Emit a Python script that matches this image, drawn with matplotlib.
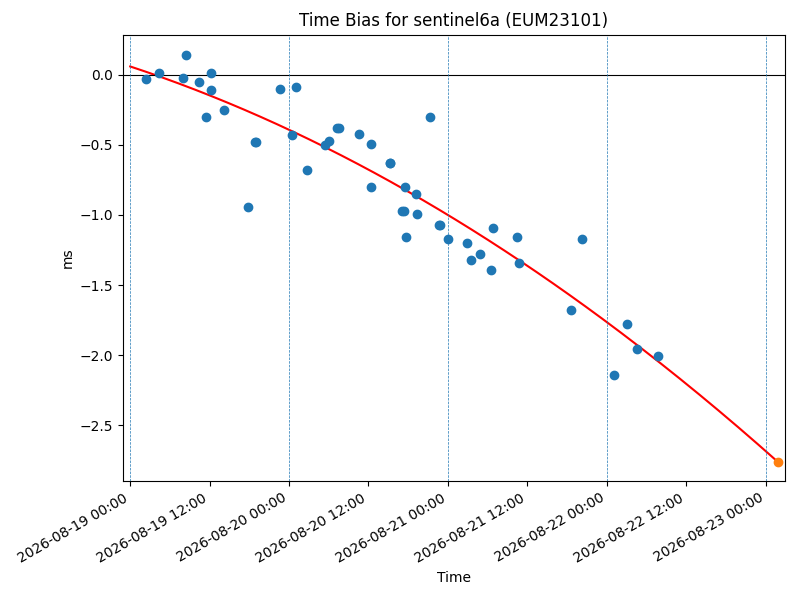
import numpy as np
import pandas as pd
import matplotlib
matplotlib.use("Agg")
import matplotlib.pyplot as plt
import matplotlib.dates as mdates

base = pd.Timestamp("2026-08-19 00:00")
hours = [2.4, 4.4, 8.0, 8.45, 10.4, 11.5, 12.2, 12.2, 14.2, 17.8, 18.9, 19.0, 22.6, 24.5, 25.1,
         26.7, 29.4, 30.0, 31.2, 31.5, 34.6, 36.4, 36.4, 39.2, 39.3, 41.1, 41.3, 41.5, 41.7,
         43.2, 43.3, 45.3, 46.6, 46.8, 48.0, 50.9, 51.5, 52.8, 54.5, 54.8, 58.4, 58.7, 66.6,
         68.2, 73.1, 75.0, 76.5, 79.7]
bias = [-0.03, 0.01, -0.02, 0.14, -0.05, -0.30, 0.01, -0.11, -0.25, -0.94, -0.48, -0.48, -0.10,
        -0.43, -0.09, -0.68, -0.50, -0.47, -0.38, -0.38, -0.42, -0.49, -0.80, -0.63, -0.63,
        -0.97, -0.97, -0.80, -1.16, -0.85, -0.99, -0.30, -1.07, -1.07, -1.17, -1.20, -1.32,
        -1.28, -1.39, -1.09, -1.16, -1.34, -1.68, -1.17, -2.14, -1.78, -1.96, -2.01]
fit_hours = [0.0, 48.0, 97.8]
fit_vals = [0.06, -1.0, -2.76]
pred_hour = 97.8

h = np.array(hours)
coef = np.polyfit(fit_hours, fit_vals, 2)
tt = np.linspace(0, pred_hour, 200)
ff = np.polyval(coef, tt)

to_t = lambda x: base + pd.to_timedelta(np.asarray(x), unit="h")

fig, ax = plt.subplots(figsize=(8, 6), dpi=100)
ax.scatter(to_t(h), bias, color="C0", zorder=3)
ax.plot(to_t(tt), ff, color="red")
ax.scatter([to_t([pred_hour])[0]], [np.polyval(coef, pred_hour)], color="C1", zorder=4)
ax.axhline(0, color="black", lw=0.8)
for d in range(5):
    ax.axvline(base + pd.Timedelta(days=d), color="C0", ls="--", lw=0.5)
ax.set_xlim(to_t([-1.06])[0], to_t([98.9])[0])
ax.set_ylim(-2.9, 0.286)
ax.xaxis.set_major_locator(mdates.HourLocator(byhour=[0, 12]))
ax.xaxis.set_major_formatter(mdates.DateFormatter("%Y-%m-%d %H:%M"))
ax.set_xlabel("Time")
ax.set_ylabel("ms")
ax.set_title("Time Bias for sentinel6a (EUM23101)")
fig.autofmt_xdate()
fig.subplots_adjust(left=0.154, right=0.981, top=0.942, bottom=0.198)
fig.savefig("out.png")
